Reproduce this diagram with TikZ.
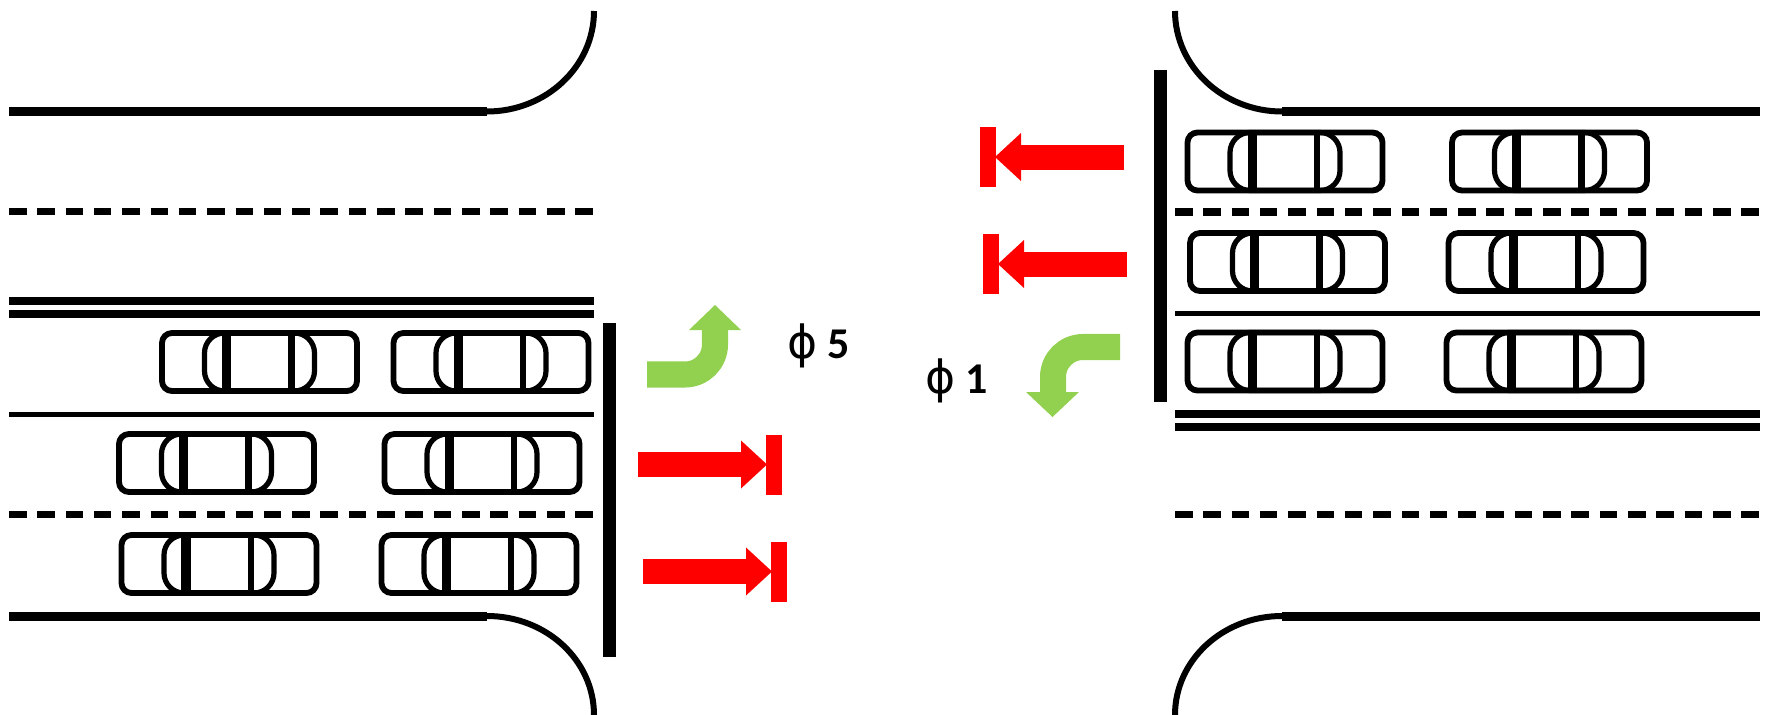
\documentclass[tikz,border=0pt]{standalone}
\usepackage{fontspec}
\setmainfont{Carlito}
\newfontfamily\phasesym{DejaVu Sans}
\definecolor{turngreen}{RGB}{146,208,80}
\definecolor{stopred}{RGB}{255,0,0}
\begin{document}
\begin{tikzpicture}[x=0.01cm,y=-0.01cm,
  curb/.style={line width=0.09cm},
  curbarc/.style={line width=0.06cm},
  laneline/.style={line width=0.05cm},
  centerline/.style={line width=0.08cm},
  dashline/.style={line width=0.07cm, dash pattern=on 0.175cm off 0.108cm},
  stopbar/.style={line width=0.13cm},
  turnshaft/.style={draw=turngreen, line width=0.26cm, rounded corners=0.3cm},
  phase/.style={font=\fontsize{12.5}{14}\selectfont\bfseries, inner sep=0pt, anchor=base west},
  car/.pic={
    \draw[line width=0.058cm, rounded corners=0.1cm] (-97.5,-29) rectangle (97.5,29);
    \draw[line width=0.052cm, rounded corners=0.2cm] (-55,-29) rectangle (55,29);
    \draw[line width=0.09cm] (-33,-29) -- (-33,29);
    \draw[line width=0.065cm] (32,-29) -- (32,29);
  },
  stoparrow/.pic={
    \fill[stopred] (0,-12.5) rectangle (104,12.5);
    \fill[stopred] (103,-24) -- (129,0) -- (103,24) -- cycle;
    \fill[stopred] (128,-30) rectangle (144,30);
  }
]
\useasboundingbox (0,0) rectangle (1766,715);

% western approach: curbs and lane markings
\draw[curb] (9,111.5) -- (487,111.5);
\draw[curbarc] (487,111.5) .. controls (546,111.5) and (594,66.5) .. (594,11);
\draw[curb] (9,616) -- (487,616);
\draw[curbarc] (487,616) .. controls (546,616) and (594,660) .. (594,715);
\draw[dashline] (9,211.7) -- (594,211.7);
\draw[centerline] (9,301) -- (594,301);
\draw[centerline] (9,313.5) -- (594,313.5);
\draw[laneline] (9,414.5) -- (594,414.5);
\draw[dashline] (9,514.7) -- (594,514.7);
\draw[stopbar] (609.5,323) -- (609.5,657);

% eastern approach: curbs and lane markings
\draw[curbarc] (1175,11) .. controls (1175,66.5) and (1223,111.5) .. (1282,111.5);
\draw[curb] (1282,111.5) -- (1760,111.5);
\draw[curbarc] (1175,715) .. controls (1175,660) and (1223,616) .. (1282,616);
\draw[curb] (1282,616) -- (1760,616);
\draw[dashline] (1175,212) -- (1760,212);
\draw[laneline] (1175,313) -- (1760,313);
\draw[centerline] (1175,414) -- (1760,414);
\draw[centerline] (1175,426.5) -- (1760,426.5);
\draw[dashline] (1175,514.7) -- (1760,514.7);
\draw[stopbar] (1160,70) -- (1160,402);

% queued vehicles, west
\pic (w11) at (259.5,362) {car};
\pic (w12) at (491,362) {car};
\pic (w21) at (216.5,463) {car};
\pic (w22) at (482,463) {car};
\pic (w31) at (219,564) {car};
\pic (w32) at (479,564) {car};

% queued vehicles, east
\pic (e11) at (1285,161.5) {car};
\pic (e12) at (1549.5,161.5) {car};
\pic (e21) at (1287.5,262) {car};
\pic (e22) at (1546,262) {car};
\pic (e31) at (1285,361.5) {car};
\pic (e32) at (1544,361.5) {car};

% stopped through movements
\pic (sw1) at (638,464.5) {stoparrow};
\pic (sw2) at (643,571.5) {stoparrow};
\pic[rotate=180] (se1) at (1124,157) {stoparrow};
\pic[rotate=180] (se2) at (1127,264) {stoparrow};

% protected left turns
\draw[turnshaft] (647,374.5) -- (715,374.5) -- (715,329);
\fill[turngreen] (689,330) -- (741,330) -- (715,305) -- cycle;
\draw[turnshaft] (1120,347) -- (1053,347) -- (1053,393);
\fill[turngreen] (1026,392) -- (1079,392) -- (1052.5,417) -- cycle;

% phase labels
\node[phase] (ph5) at (787,358) {{\phasesym\mdseries\fontsize{13}{14}\selectfont ϕ} 5};
\node[phase] (ph1) at (925,393) {{\phasesym\mdseries\fontsize{13}{14}\selectfont ϕ} 1};
\end{tikzpicture}
\end{document}
